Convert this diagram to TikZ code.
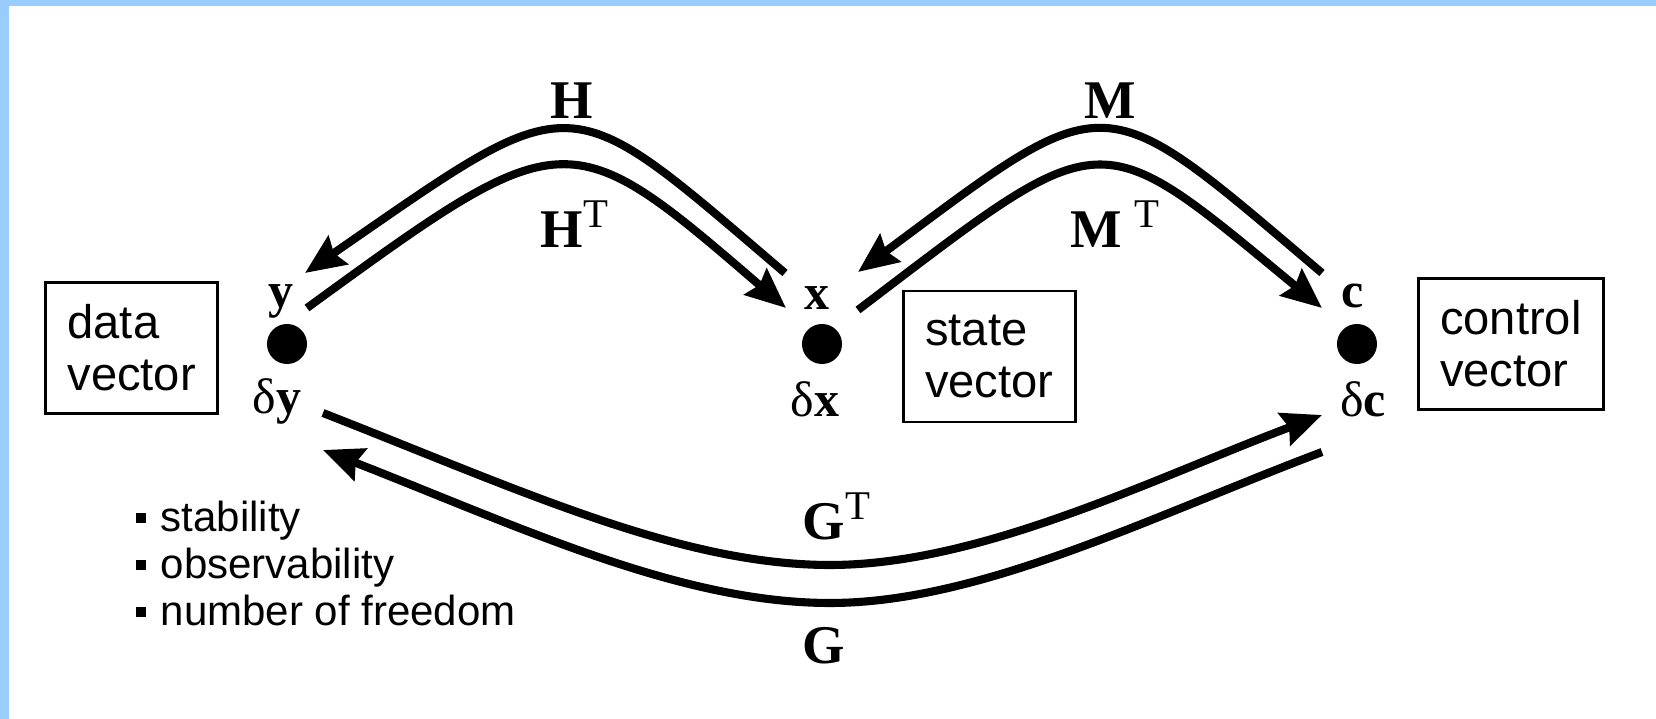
\documentclass[tikz,border=0pt]{standalone}
\usepackage{fontspec}
\setmainfont{Liberation Sans}
\newfontfamily\lblfont{Liberation Serif}
\usetikzlibrary{arrows.meta,positioning}
\definecolor{frameblue}{HTML}{99CCFF}
\newcommand{\sqbul}{\rule[0.08cm]{0.1cm}{0.1cm}\hspace{0.15cm}}
\newcommand{\trp}{\raisebox{0.2cm}{\fontsize{11.6}{12}\selectfont\mdseries T}}

\begin{document}
\begin{tikzpicture}[x=0.01cm, y=-0.01cm,
    vecbox/.style={rectangle, draw, line width=0.8pt, align=left, minimum height=1.31cm, inner xsep=0.22cm, font=\fontsize{13.4}{14.8}\selectfont},
    vdot/.style={circle, fill, inner sep=0pt, minimum size=0.4cm},
    lbl/.style={inner sep=0pt, font=\lblfont\fontsize{14.2}{16}\selectfont},
    oplbl/.style={inner sep=0pt, font=\lblfont\fontsize{15.5}{17}\selectfont},
    arr/.style={line width=2.3pt, -{Stealth[length=0.4cm, width=0.34cm, inset=0.05cm]}}
]
  \useasboundingbox (0,0) rectangle (1656,719);
  \fill[frameblue] (0,0) rectangle (1656,6);
  \fill[frameblue] (0,0) rectangle (9,719);

  % the three vectors
  \node[vdot] (ydot) at (287,344) {};
  \node[vdot] (xdot) at (822,344) {};
  \node[vdot] (cdot) at (1357,344) {};

  \node[vecbox, left=0.47cm of ydot, yshift=-0.04cm] (databox) {data\\vector};
  \node[vecbox, right=0.59cm of xdot, yshift=-0.125cm] (statebox) {state\\vector};
  \node[vecbox, right=0.39cm of cdot] (controlbox) {control\\vector};

  \node[lbl, anchor=base] (ylbl) at (281,308) {\textbf{y}};
  \node[lbl, anchor=base] (xlbl) at (817,310) {\textbf{x}};
  \node[lbl, anchor=base] (clbl) at (1353,308) {\textbf{c}};
  \node[lbl, anchor=base] (dylbl) at (277,414) {δ\textbf{y}};
  \node[lbl, anchor=base] (dxlbl) at (815,417) {δ\textbf{x}};
  \node[lbl, anchor=base] (dclbl) at (1363,417) {δ\textbf{c}};

  % operators
  \node[oplbl, anchor=base] (hlbl) at (572,119) {\textbf{H}};
  \node[oplbl, anchor=base west] (htlbl) at (540,248) {\textbf{H}\trp};
  \node[oplbl, anchor=base] (mlbl) at (1110,119) {\textbf{M}};
  \node[oplbl, anchor=base west] (mtlbl) at (1070,248) {\textbf{M}\hspace{0.12cm}\trp};
  \node[oplbl, anchor=base west] (gtlbl) at (802,540) {\textbf{G}\trp};
  \node[oplbl, anchor=base west] (glbl) at (802,664) {\textbf{G}};

  \node[anchor=north west, inner sep=0pt, align=left, font=\fontsize{11.95}{13.4}\selectfont] (props) at (135,500)
    {\sqbul stability\\\sqbul observability\\\sqbul number of freedom};

  % arrow ends
  \coordinate (hA) at (785,273);
  \coordinate (hB) at (305,273);
  \coordinate (htA) at (307,308);
  \coordinate (htB) at (786,308);
  \coordinate (mA) at (1322,273);
  \coordinate (mB) at (858,272);
  \coordinate (mtA) at (858,310);
  \coordinate (mtB) at (1322,308);
  \coordinate (gtA) at (323,413);
  \coordinate (gtB) at (1322,415);
  \coordinate (gA) at (1322,452);
  \coordinate (gB) at (323,450);

  \draw[arr] (hA) .. controls (562,83) and (580,83) .. (hB);
  \draw[arr] (htA) .. controls (565,120) and (568,120) .. (htB);
  \draw[arr] (mA) .. controls (1098,83) and (1112,83) .. (mB);
  \draw[arr] (mtA) .. controls (1108,120) and (1094,120) .. (mtB);
  \draw[arr] (gtA) .. controls (520,490) and (680,565) .. (830,565) .. controls (980,565) and (1150,480) .. (gtB);
  \draw[arr] (gA) .. controls (1150,517) and (980,603) .. (830,603) .. controls (680,603) and (520,527) .. (gB);
\end{tikzpicture}
\end{document}
